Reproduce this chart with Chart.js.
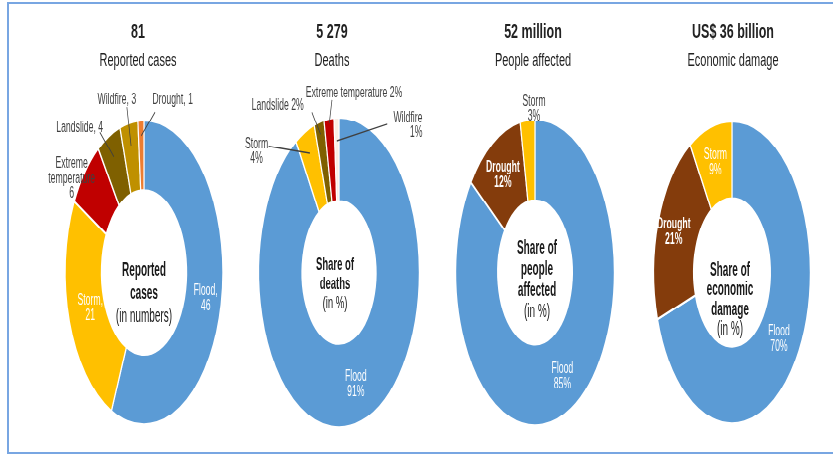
<!DOCTYPE html>
<html>
<head>
<meta charset="utf-8">
<script src="https://cdn.jsdelivr.net/npm/chart.js@4.4.1/dist/chart.umd.min.js"></script>
<style>
  html, body { margin: 0; padding: 0; background: #fff; }
  body { width: 833px; height: 457px; position: relative; overflow: hidden; font-family: "Liberation Sans", Arial, sans-serif; }
  #frame { position: absolute; left: 7px; top: 2px; width: 850px; height: 452px; border: 2px solid #78a6e2; box-sizing: border-box; }
  #stage { position: absolute; left: 0; top: 0; width: 833px; height: 237px; transform: scaleY(1.928); transform-origin: 0 0; }
  #stage canvas { position: absolute; left: 0; top: 0; }
  .head { position: absolute; width: 200px; height: 16px; line-height: 16px; text-align: center; color: #222; transform: scaleY(1.6); white-space: nowrap; }
  .big { font-weight: bold; font-size: 12.5px; }
  .sub { font-size: 11px; }
</style>
</head>
<body>
<div id="frame"></div>
<div id="stage">
  <canvas id="c1" width="833" height="237"></canvas>
  <canvas id="c2" width="833" height="237"></canvas>
  <canvas id="c3" width="833" height="237"></canvas>
  <canvas id="c4" width="833" height="237"></canvas>
</div>
<script>
// headline figures
const headlineValues = ['81', '5 279', '52 million', 'US$ 36 billion'];
const headlineNames = ['Reported cases', 'Deaths', 'People affected', 'Economic damage'];

// reported cases (numbers)
const caseTypes = ['Flood', 'Storm', 'Extreme temperature', 'Landslide', 'Wildfire', 'Drought'];
const caseCounts = [46, 21, 6, 4, 3, 1];

// deaths (share in %)
const deathTypes = ['Flood', 'Storm', 'Landslide', 'Extreme temperature', 'Wildfire'];
const deathShares = [91, 4, 2, 2, 1];

// people affected (share in %)
const affectedTypes = ['Flood', 'Drought', 'Storm'];
const affectedShares = [85, 12, 3];

// economic damage (share in %)
const damageTypes = ['Flood', 'Drought', 'Storm'];
const damageShares = [70, 21, 9];

const centreTexts = [
  ['Reported', 'cases', '(in numbers)'],
  ['Share of', 'deaths', '(in %)'],
  ['Share of', 'people', 'affected', '(in %)'],
  ['Share of', 'economic', 'damage', '(in %)']
];

const FONT = '"Liberation Sans", Arial, sans-serif';
const STAGE_W = 833, STAGE_H = 237, CY = 141.3;

const hazardColors = {
  'Flood': '#5b9bd5',
  'Storm': '#ffc000',
  'Extreme temperature': '#c00000',
  'Landslide': '#7f6000',
  'Wildfire': '#bf9000',
  'Drought': '#843c0c'
};

const panels = [
  {
    id: 'c1', labels: caseTypes, values: caseCounts, unit: '', sep: ', ',
    cx: 144, r: 78.5, cutout: '54%', headX: 138,
    colors: { 'Drought': '#ed7d31' },
    centre: { dx: 0, dy: -1.3, gap: 12, size: 10 },
    layout: {
      'Flood': { inside: true, rf: 0.8 },
      'Storm': { inside: true, rf: 0.72 },
      'Extreme temperature': { wrap: 'words', at: [-0.917, -0.62] },
      'Landslide': { wrap: 'one', at: [-0.815, -0.954], from: [-0.56, -0.921], rf: 0.85 },
      'Wildfire': { wrap: 'one', at: [-0.344, -1.139], from: [-0.217, -1.087], rf: 0.85 },
      'Drought': { wrap: 'one', at: [0.363, -1.139], from: [0.14, -1.054], rf: 0.9 }
    }
  },
  {
    id: 'c2', labels: deathTypes, values: deathShares, unit: '%', sep: ' ',
    cx: 339, r: 80, cutout: '46%', headX: 332,
    colors: { 'Wildfire': '#fbeee4' },
    centre: { dx: -4, dy: -3.9, gap: 10, size: 9.5 },
    layout: {
      'Flood': { inside: true, rf: 0.75 },
      'Storm': { at: [-1.025, -0.781], from: [-0.875, -0.814], rf: 0.85 },
      'Landslide': { wrap: 'one', at: [-0.7625, -1.079], from: [-0.3375, -1.034], rf: 0.92 },
      'Extreme temperature': { wrap: 'one', at: [0.1875, -1.157], from: [-0.0875, -1.111], rf: 0.97 },
      'Wildfire': { at: [1.0375, -0.949], align: 'right', from: [0.6, -0.956], rf: 0.85 }
    }
  },
  {
    id: 'c3', labels: affectedTypes, values: affectedShares, unit: '%', sep: ' ',
    cx: 535, r: 79, cutout: '47%', headX: 533,
    colors: {},
    centre: { dx: 2, dy: -12.7, gap: 11, size: 10 },
    layout: {
      'Flood': { inside: true, rf: 0.76 },
      'Drought': { inside: true, rf: 0.755, bold: true },
      'Storm': { at: [-0.013, -1.07] }
    }
  },
  {
    id: 'c4', labels: damageTypes, values: damageShares, unit: '%', sep: ' ',
    cx: 732, r: 78, cutout: '49%', headX: 733,
    colors: {},
    centre: { dx: -2, dy: -1.3, gap: 10.3, size: 10 },
    layout: {
      'Flood': { inside: true, rf: 0.74 },
      'Drought': { inside: true, rf: 0.79, bold: true },
      'Storm': { inside: true, rf: 0.76 }
    }
  }
];

function labelLines(panel, name, value, mode) {
  const v = value + panel.unit;
  if (mode === 'one') return [name + panel.sep + v];
  if (mode === 'words') return name.split(' ').concat([v]);
  return [name + panel.sep.trim(), v];
}

function drawLines(ctx, lines, x, y, gap, align) {
  ctx.textAlign = align || 'center';
  const top = y - (lines.length - 1) * gap / 2;
  lines.forEach((t, i) => ctx.fillText(t, x, top + i * gap));
}

function sliceLabels(panel, centre) {
  return {
    id: 'sliceLabels',
    afterDraw(chart) {
      const ctx = chart.ctx;
      const arcs = chart.getDatasetMeta(0).data;
      const values = chart.data.datasets[0].data;
      ctx.save();
      ctx.textBaseline = 'middle';
      chart.data.labels.forEach((name, i) => {
        const lay = panel.layout[name];
        const a = arcs[i].getProps(['x', 'y', 'startAngle', 'endAngle', 'outerRadius'], true);
        const R = a.outerRadius;
        const mid = (a.startAngle + a.endAngle) / 2;
        const lines = labelLines(panel, name, values[i], lay.wrap || 'two');
        ctx.font = (lay.bold ? 'bold ' : '') + '8.7px ' + FONT;
        if (lay.inside) {
          ctx.fillStyle = '#ffffff';
          drawLines(ctx, lines, a.x + Math.cos(mid) * R * lay.rf, a.y + Math.sin(mid) * R * lay.rf, 8, 'center');
        } else {
          ctx.fillStyle = '#404040';
          drawLines(ctx, lines, a.x + lay.at[0] * R, a.y + lay.at[1] * R, 7.6, lay.align);
          if (lay.from) {
            ctx.strokeStyle = '#404040';
            ctx.lineWidth = 0.7;
            ctx.beginPath();
            ctx.moveTo(a.x + lay.from[0] * R, a.y + lay.from[1] * R);
            ctx.lineTo(a.x + Math.cos(mid) * R * lay.rf, a.y + Math.sin(mid) * R * lay.rf);
            ctx.stroke();
          }
        }
      });
      // text in the hole
      const c = panel.centre;
      const x0 = arcs[0].x + c.dx, y0 = arcs[0].y + c.dy;
      ctx.fillStyle = '#1a1a1a';
      ctx.textAlign = 'center';
      centre.forEach((t, i) => {
        const last = i === centre.length - 1;
        ctx.font = (last ? '' : 'bold ') + c.size + 'px ' + FONT;
        ctx.fillText(t, x0, y0 + i * c.gap);
      });
      ctx.restore();
    }
  };
}

panels.forEach((p, k) => {
  // headline above each ring
  const h1 = document.createElement('div');
  h1.className = 'head big';
  h1.textContent = headlineValues[k];
  h1.style.left = (p.headX - 100) + 'px';
  h1.style.top = (32 - 8) + 'px';
  document.body.appendChild(h1);
  const h2 = document.createElement('div');
  h2.className = 'head sub';
  h2.textContent = headlineNames[k];
  h2.style.left = (p.headX - 100) + 'px';
  h2.style.top = (60 - 8) + 'px';
  document.body.appendChild(h2);

  const R = p.r + 1;
  new Chart(document.getElementById(p.id), {
    type: 'doughnut',
    data: {
      labels: p.labels,
      datasets: [{
        data: p.values,
        backgroundColor: p.labels.map(n => p.colors[n] || hazardColors[n]),
        borderColor: '#ffffff',
        borderWidth: 1.2
      }]
    },
    options: {
      responsive: false,
      animation: false,
      devicePixelRatio: 2,
      cutout: p.cutout,
      layout: {
        padding: { left: p.cx - R, right: STAGE_W - p.cx - R, top: CY - R, bottom: STAGE_H - CY - R }
      },
      plugins: {
        legend: { display: false },
        tooltip: { enabled: false }
      }
    },
    plugins: [sliceLabels(p, centreTexts[k])]
  });
});
</script>
</body>
</html>
